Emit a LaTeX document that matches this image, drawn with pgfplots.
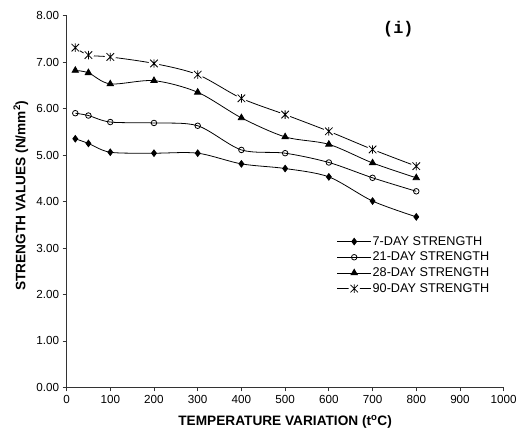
\documentclass[border=0pt]{standalone}
\usepackage{pgfplots}
\pgfplotsset{compat=1.18}
\usepackage{fontspec}
\setmainfont{Liberation Sans}
\newfontfamily\monofont{Liberation Mono}
\pgfdeclareplotmark{wstar}{%
  \pgfpathcircle{\pgfpointorigin}{1.35\pgfplotmarksize}%
  \pgfsetfillcolor{white}\pgfusepath{fill}%
  \pgfpathmoveto{\pgfqpoint{0pt}{-\pgfplotmarksize}}\pgfpathlineto{\pgfqpoint{0pt}{\pgfplotmarksize}}%
  \pgfpathmoveto{\pgfqpoint{-0.9\pgfplotmarksize}{-0.9\pgfplotmarksize}}\pgfpathlineto{\pgfqpoint{0.9\pgfplotmarksize}{0.9\pgfplotmarksize}}%
  \pgfpathmoveto{\pgfqpoint{-0.9\pgfplotmarksize}{0.9\pgfplotmarksize}}\pgfpathlineto{\pgfqpoint{0.9\pgfplotmarksize}{-0.9\pgfplotmarksize}}%
  \pgfusepathqstroke}
\begin{document}
\begin{tikzpicture}
\begin{axis}[
  name=ax,
  scale only axis,
  width=440bp, height=374.3bp,
  xmin=0, xmax=1000, ymin=0, ymax=8,
  xtick={0,100,...,1000},
  ytick={0,1,...,8},
  axis lines*=left,
  axis line style={black!80, line width=0.9bp},
  tick style={black!80, line width=0.8bp},
  tick align=outside,
  major tick length=4bp,
  /pgf/number format/assume math mode=true,
  ticklabel style={font=\fontsize{11.8}{13}\selectfont},
  yticklabel style={/pgf/number format/.cd, fixed, fixed zerofill, precision=2},
  xticklabel style={/pgf/number format/.cd, fixed, precision=0, 1000 sep={}},
  xlabel={TEMPERATURE VARIATION (t\textsuperscript{o}C)},
  ylabel={STRENGTH VALUES (N/mm\textsuperscript{2})},
  label style={font=\bfseries\fontsize{13.8}{15}\selectfont},
  xlabel style={at={(axis description cs:0.5,0)}, anchor=center, yshift=-35bp},
  ylabel style={at={(axis description cs:0,0.5)}, anchor=center, yshift=46bp, xshift=6bp},
  clip=false,
  every axis plot/.append style={black, line width=0.8bp, smooth, tension=0.5},
  legend cell align=left,
  legend image code/.code={\draw[mark repeat=2,mark phase=2,#1] plot coordinates {(0bp,0bp)(17bp,0bp)(34bp,0bp)};},
  legend style={at={(rel axis cs:0.618,0.41)}, anchor=north west, draw=none, fill=none,
    font=\fontsize{12.8}{14}\selectfont, inner sep=0pt, row sep=3bp,
    nodes={inner sep=1.2bp}},
]
\addplot[mark=diamond*, mark size=3.3bp] coordinates {
(20,5.35) (50,5.25) (100,5.06) (200,5.04) (300,5.04) (400,4.81) (500,4.71) (600,4.53) (700,4.01) (800,3.67)};
\addlegendentry{7-DAY STRENGTH}
\addplot[mark=o, mark size=2.8bp, mark options={fill=white}] coordinates {
(20,5.90) (50,5.85) (100,5.71) (200,5.69) (300,5.63) (400,5.11) (500,5.04) (600,4.84) (700,4.51) (800,4.22)};
\addlegendentry{21-DAY STRENGTH}
\addplot[mark=triangle*, mark size=3.7bp] coordinates {
(20,6.82) (50,6.77) (100,6.53) (200,6.60) (300,6.35) (400,5.80) (500,5.39) (600,5.23) (700,4.83) (800,4.51)};
\addlegendentry{28-DAY STRENGTH}
\addplot[mark=wstar, mark size=4.2bp] coordinates {
(20,7.31) (50,7.15) (100,7.11) (200,6.97) (300,6.73) (400,6.22) (500,5.87) (600,5.51) (700,5.12) (800,4.76)};
\addlegendentry{90-DAY STRENGTH}
\node[font=\monofont\bfseries\fontsize{17}{19}\selectfont] at (rel axis cs:0.759,0.9626) {(i)};
\end{axis}
\path ([shift={(-67bp,-44bp)}]ax.south west) rectangle ([shift={(13bp,15.7bp)}]ax.north east);
\end{tikzpicture}
\end{document}
